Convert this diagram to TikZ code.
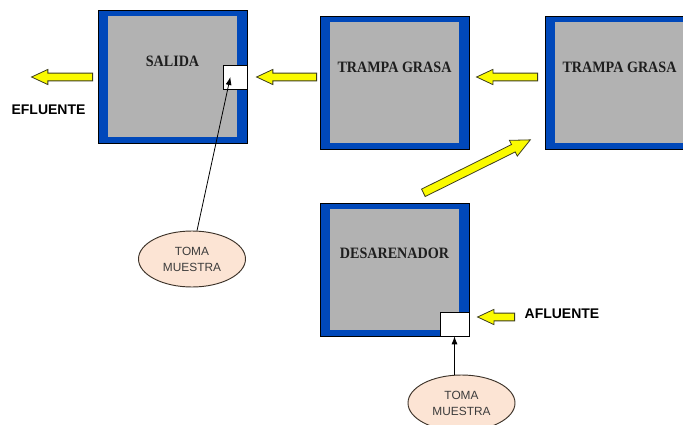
\documentclass[tikz,border=0pt]{standalone}
\usepackage{fontspec}
\usepackage{graphicx}
\setmainfont{Liberation Serif}
\setsansfont{Liberation Sans}
\usetikzlibrary{shapes.geometric,shapes.arrows,arrows.meta,calc}
\definecolor{tankblue}{RGB}{0,72,186}
\definecolor{tankgray}{RGB}{178,178,178}
\definecolor{labelink}{RGB}{30,30,30}
\definecolor{arrowyellow}{RGB}{250,250,0}
\definecolor{arrowedge}{RGB}{60,60,30}
\definecolor{peach}{RGB}{252,228,212}
\definecolor{peachedge}{RGB}{60,50,40}
\definecolor{sampleink}{RGB}{60,60,60}
\newcommand\tanktext[1]{\scalebox{1}[1.12]{#1}}
\begin{document}
\begin{tikzpicture}[x=0.75pt,y=-0.75pt,
  tank/.style={draw=black, line width=0.6pt, fill=tankblue,
    minimum width=111.75pt, minimum height=99.75pt, inner sep=0pt,
    path picture={\fill[tankgray] ([xshift=7.5pt,yshift=4.5pt]path picture bounding box.south west)
      rectangle ([xshift=-7.5pt,yshift=-4.5pt]path picture bounding box.north east);}},
  tanklabel/.style={font=\bfseries\fontsize{10.6}{12}\selectfont, text=labelink, yshift=11pt, inner sep=0pt},
  port/.style={draw=black, line width=0.5pt, fill=white, inner sep=0pt},
  sample/.style={ellipse, draw=peachedge, line width=0.7pt, fill=peach,
    minimum width=80.25pt, minimum height=42pt, inner sep=0pt, align=center,
    font=\sffamily\fontsize{8.9}{12}\selectfont, text=sampleink},
  samplearrow/.style={draw=black, line width=0.6pt, -{Latex[length=6pt,width=4.5pt]}},
  yarrow/.style={single arrow, draw=arrowedge, fill=arrowyellow, line width=0.6pt,
    inner xsep=0pt, inner ysep=2.6pt, single arrow head extend=2.8pt,
    single arrow tip angle=50, sloped, allow upside down, anchor=tail},
  bigyarrow/.style={yarrow, inner ysep=2.8pt, single arrow head extend=3.5pt},
  flowtext/.style={font=\sffamily\bfseries\fontsize{10.5}{12}\selectfont, text=black, inner sep=0pt}
]
\useasboundingbox (0,0) rectangle (683,425);
\clip (0,0) rectangle (683,425);
\fill[white] (0,0) rectangle (683,425);

% tanks
\node[tank, label={[tanklabel]center:\tanktext{SALIDA}}] (salida) at (172.5,76.5) {};
\node[tank, label={[tanklabel]center:\tanktext{TRAMPA GRASA}}] (trampa1) at (394.5,82.5) {};
\node[tank, label={[tanklabel]center:\tanktext{TRAMPA GRASA}}] (trampa2) at (619.5,82.5) {};
\node[tank, label={[tanklabel,yshift=1.2pt]center:\tanktext{DESARENADOR}}] (desar) at (394.5,269.5) {};

% sample ports
\node[port, minimum width=18pt, minimum height=18pt] (port1) at (235,77) {};
\node[port, minimum width=21.75pt, minimum height=18pt] (port2) at (454.5,324) {};

% sample ellipses
\node[sample] (tm1) at (192,259) {TOMA\\MUESTRA};
\node[sample] (tm2) at (461.5,403) {TOMA\\MUESTRA};

\draw[samplearrow] (tm1.80) -- ([xshift=-3.5pt]port1.center);
\draw[samplearrow] (port2.south |- tm2.north) -- (port2.south);

% flow labels
\node[flowtext] (efl) at (48.5,110) {EFLUENTE};
\node[flowtext] (afl) at (562,314) {AFLUENTE};

% yellow flow arrows
\coordinate (e1s) at (93,77);  \coordinate (e1e) at (32,77);
\coordinate (e2s) at (317,77); \coordinate (e2e) at (257,77);
\coordinate (e3s) at (538,77); \coordinate (e3e) at (477,77);
\coordinate (e4s) at (515,317); \coordinate (e4e) at (478,317);
\coordinate (e5s) at (423,193); \coordinate (e5e) at (530,140);

\path (e1s) -- (e1e) node[at start, yarrow, minimum height=45.75pt] (a1) {};
\path (e2s) -- (e2e) node[at start, yarrow, minimum height=45pt] (a2) {};
\path (e3s) -- (e3e) node[at start, yarrow, minimum height=45.75pt] (a3) {};
\path (e4s) -- (e4e) node[at start, yarrow, minimum height=27.75pt] (a4) {};
\path (e5s) -- (e5e) node[at start, bigyarrow, minimum height=89.5pt] (a5) {};
\end{tikzpicture}
\end{document}
